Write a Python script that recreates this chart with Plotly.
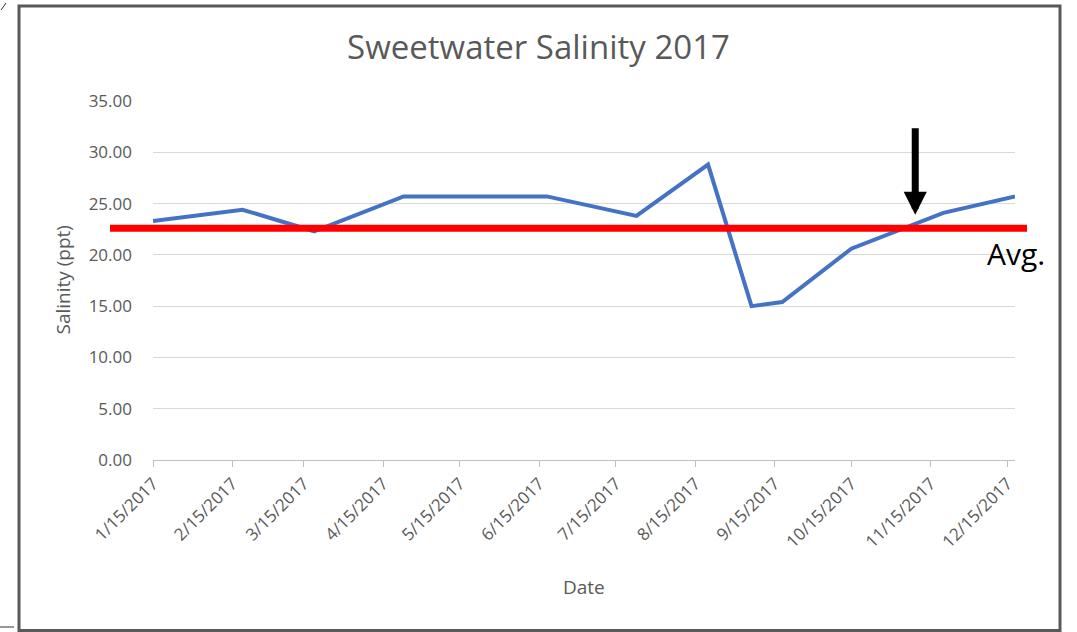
import plotly.graph_objects as go

# salinity readings (ppt)
sample_dates = ["2017-01-15", "2017-02-19", "2017-03-19", "2017-04-23", "2017-06-18", "2017-07-23",
                "2017-08-20", "2017-09-06", "2017-09-18", "2017-10-15", "2017-11-20", "2017-12-18"]
salinity = [23.3, 24.4, 22.3, 25.7, 25.7, 23.8, 28.8, 15.0, 15.4, 20.6, 24.1, 25.7]

avg_salinity = 22.6

tick_dates = ["2017-%02d-15" % m for m in range(1, 13)]
tick_labels = ["%d/15/2017" % m for m in range(1, 13)]

arrow_date = "2017-11-09"
arrow_value = 23.9

W, H = 1077, 632

# plot area in pixels, used to place the frame and decorations
PLOT_L, PLOT_R, PLOT_T, PLOT_B = 153, 1015, 101, 460


def px(x):
    return (x - PLOT_L) / (PLOT_R - PLOT_L)


def py(y):
    return (PLOT_B - y) / (PLOT_B - PLOT_T)


grey = '#595959'
font = 'Open Sans'

fig = go.Figure()
fig.add_trace(go.Scatter(x=sample_dates, y=salinity, mode='lines', name='Salinity',
                         line=dict(width=4, color='#4472C4'), showlegend=False))

fig.update_xaxes(type='date', range=[sample_dates[0], sample_dates[-1]],
                 tickmode='array', tickvals=tick_dates, ticktext=tick_labels, tickangle=-45,
                 ticks='outside', ticklen=6, tickcolor='#bfbfbf',
                 showgrid=False, showline=True, linecolor='#bfbfbf', linewidth=1,
                 tickfont=dict(family=font, size=17, color=grey))
fig.update_yaxes(range=[0, 35], tick0=0, dtick=5, tickformat='.2f',
                 showgrid=True, gridcolor='#d9d9d9', gridwidth=1, zeroline=False, showline=False,
                 ticklabelstandoff=20, tickfont=dict(family=font, size=17, color=grey))

shapes = [
    # outer frame
    dict(type='rect', xref='paper', yref='paper', x0=px(19), x1=px(1060), y0=py(630.5), y1=py(6),
         line=dict(color=grey, width=3)),
    # crop marks at the left edge
    dict(type='line', xref='paper', yref='paper', x0=px(1), x1=px(6), y0=py(10), y1=py(3),
         line=dict(color='#333333', width=1)),
    dict(type='line', xref='paper', yref='paper', x0=px(0), x1=px(14), y0=py(627), y1=py(627),
         line=dict(color='#333333', width=1)),
    # average line
    dict(type='line', xref='paper', yref='y', x0=px(110), x1=px(1027), y0=avg_salinity, y1=avg_salinity,
         line=dict(color='#ff0000', width=7)),
]

annotations = [
    dict(text='Salinity (ppt)', xref='paper', yref='paper', x=px(62), y=0.5, textangle=-90,
         showarrow=False, xanchor='center', yanchor='middle', font=dict(family=font, size=19, color=grey)),
    dict(text='Date', xref='paper', yref='paper', x=0.5, y=py(587), showarrow=False,
         xanchor='center', yanchor='middle', font=dict(family=font, size=19, color=grey)),
    dict(text='Avg.', xref='paper', yref='y', x=px(985), y=avg_salinity, yshift=-3, showarrow=False,
         xanchor='left', yanchor='top', font=dict(family=font, size=30, color='black')),
    dict(text='', x=arrow_date, y=arrow_value, xref='x', yref='y', ax=0, ay=-88,
         showarrow=True, arrowhead=2, arrowwidth=7, arrowsize=0.66, arrowcolor='black', standoff=0),
]

fig.update_layout(
    width=W, height=H, autosize=False,
    title=dict(text='Sweetwater Salinity 2017', x=0.5, xanchor='center',
               y=1 - 47 / H, yanchor='middle',
               font=dict(family=font, size=33, color=grey)),
    margin=dict(l=PLOT_L, r=W - PLOT_R, t=PLOT_T, b=H - PLOT_B),
    plot_bgcolor='white', paper_bgcolor='white',
    shapes=shapes, annotations=annotations, showlegend=False,
)

# drop the browser's default body margin so the figure sits at the page corner
fig.write_html("out.html", config={'displayModeBar': False},
               post_script="document.body.style.margin = '0';")
